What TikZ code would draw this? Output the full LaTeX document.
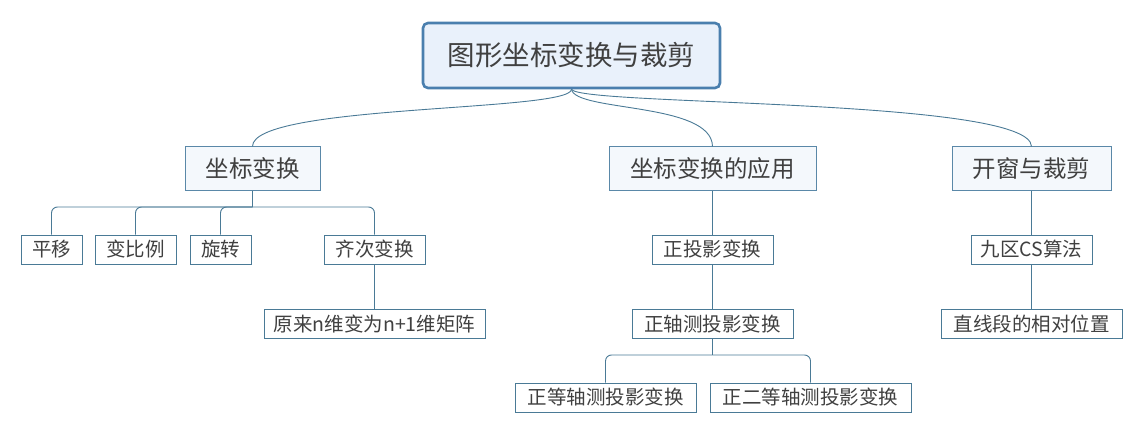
\documentclass[tikz,border=0pt]{standalone}
\usepackage{fontspec}
\setmainfont{Noto Sans CJK SC}
\usepackage{tikz}
\usetikzlibrary{positioning}

\definecolor{rootline}{HTML}{4A7FAE}
\definecolor{rootfill}{HTML}{E9F1FB}
\definecolor{topicline}{HTML}{5A88A8}
\definecolor{topicfill}{HTML}{F4F8FC}
\definecolor{leafline}{HTML}{4A7A96}

\begin{document}
\begin{tikzpicture}[
    x=1pt, y=-1pt,
    rootbox/.style={rectangle, rounded corners=5pt, minimum width=297pt, minimum height=65pt, align=center, draw=rootline, line width=2.6pt, fill=rootfill, font=\fontsize{27.5}{31}\selectfont, text=black!75},
    topicbox/.style={rectangle, minimum height=43pt, inner xsep=4pt, align=center, draw=topicline, line width=1pt, fill=topicfill, font=\fontsize{23.5}{27}\selectfont, text=black!75},
    leafbox/.style={rectangle, minimum height=29pt, inner xsep=4pt, align=center, draw=leafline, line width=0.9pt, fill=white, font=\fontsize{19.5}{22}\selectfont, text=black!75},
    link/.style={draw=leafline, line width=0.9pt}
]
    \useasboundingbox (0,0) rectangle (1143,433);

    \node[rootbox] (root) at (571.5,55.5) {图形坐标变换与裁剪};

    \node[topicbox, minimum width=135pt] (trans) at (252.5,168.5) {坐标变换};
    \node[topicbox, minimum width=207pt] (app) at (712.5,168.5) {坐标变换的应用};
    \node[topicbox, minimum width=159pt] (clip) at (1031.5,168.5) {开窗与裁剪};

    \node[leafbox, minimum width=61pt] (pingyi) at (51.5,249.5) {平移};
    \node[leafbox, minimum width=81pt] (bianbili) at (135.5,249.5) {变比例};
    \node[leafbox, minimum width=61pt] (xuanzhuan) at (220.5,249.5) {旋转};
    \node[leafbox, minimum width=101pt] (qici) at (374.5,249.5) {齐次变换};
    \node[leafbox, minimum width=221pt, below=45pt of qici] (juzhen) {原来n维变为n+1维矩阵};

    \node[leafbox, minimum width=121pt] (zhengtou) at (712.5,249.5) {正投影变换};
    \node[leafbox, minimum width=161pt, below=45pt of zhengtou] (zhouce) {正轴测投影变换};
    \node[leafbox, minimum width=181pt] (dengce) at (605.5,397.5) {正等轴测投影变换};
    \node[leafbox, minimum width=201pt] (erdengce) at (810.5,397.5) {正二等轴测投影变换};

    \node[leafbox, minimum width=121pt] (jiuqu) at (1031.5,249.5) {九区CS算法};
    \node[leafbox, minimum width=181pt, below=45pt of jiuqu] (xianduan) {直线段的相对位置};

    \coordinate (transbus) at (252.5,207);
    \coordinate (zhoucebus) at (712.5,355);

    % root to topics
    \draw[link] (root.south) .. controls (571,112) and (252,104) .. (trans.north);
    \draw[link] (root.south) .. controls (575,112) and (712,102) .. (app.north);
    \draw[link] (root.south) .. controls (580,106) and (1031,98) .. (clip.north);

    % coordinate transforms
    \draw[link] (trans) -- (transbus);
    \draw[link, rounded corners=6pt] (transbus) -| (pingyi);
    \draw[link, rounded corners=6pt] (transbus) -| (bianbili);
    \draw[link, rounded corners=6pt] (transbus) -| (xuanzhuan);
    \draw[link, rounded corners=6pt] (transbus) -| (qici);
    \draw[link] (qici) -- (juzhen);

    % applications
    \draw[link] (app) -- (zhengtou);
    \draw[link] (zhengtou) -- (zhouce);
    \draw[link] (zhouce) -- (zhoucebus);
    \draw[link, rounded corners=6pt] (zhoucebus) -| (dengce);
    \draw[link, rounded corners=6pt] (zhoucebus) -| (erdengce);

    % windows and clipping
    \draw[link] (clip) -- (jiuqu);
    \draw[link] (jiuqu) -- (xianduan);
\end{tikzpicture}
\end{document}
